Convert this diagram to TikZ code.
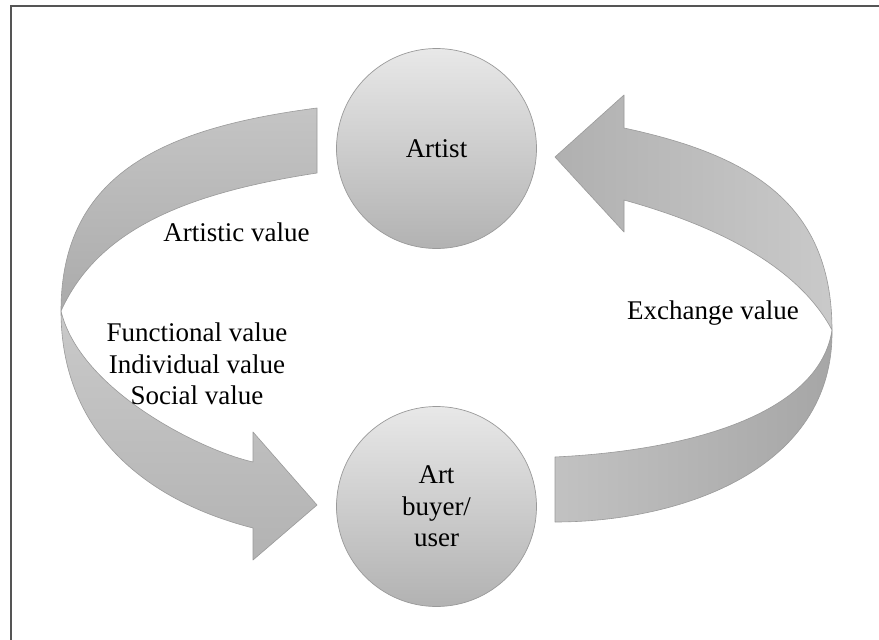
\documentclass[tikz,border=0pt]{standalone}
\usepackage{fontspec}
\setmainfont{Liberation Serif}
\definecolor{frame}{HTML}{555555}
\definecolor{edgec}{HTML}{9A9A9A}
\definecolor{cirtop}{HTML}{E8E8E8}
\definecolor{cirbot}{HTML}{B2B2B2}
\begin{document}
\begin{tikzpicture}[x=1pt,y=-1pt,
  lbl/.style={font=\fontsize{27}{31.5}\selectfont, align=center, inner sep=0pt},
  party/.style={circle, minimum size=200pt, inner sep=0pt, draw=edgec, line width=0.7pt,
     top color=cirtop, bottom color=cirbot, font=\fontsize{27}{31.5}\selectfont, align=center},
  band/.style={draw=edgec, line width=0.6pt, line join=round}]
\useasboundingbox (0,0) rectangle (879,640);
\fill[white] (0,0) rectangle (879,640);
\draw[frame, line width=2pt] (11,640) -- (11,6) -- (879,6);

% nodes
\node[party] (artist) at (436.5,148.5) {Artist};
\node[party] (buyer) at (436.5,506.5) {Art\\buyer/\\user};

% twist points of the two ribbons
\coordinate (ltw) at (61,311);
\coordinate (rtw) at (832,330);

% left arrow (artist -> buyer), upper band
\path[band, top color=black!23, bottom color=black!33]
  (317,108) .. controls (167,127.5) and (61,172) .. (ltw)
  .. controls (98,229) and (187,193) .. (317,173) -- cycle;
% left arrow lower band with head
\path[band, top color=black!21, bottom color=black!30]
  (ltw) .. controls (61,430) and (143,500) .. (253,528)
  -- (253,560) -- (317,505) -- (253,432) -- (253,462)
  .. controls (200,450) and (80,390) .. (ltw) -- cycle;

% right arrow (buyer -> artist), lower band
\path[band, left color=black!24, right color=black!35]
  (rtw) .. controls (834,470) and (680,522) .. (555,522)
  -- (555,457) .. controls (700,450) and (820,410) .. (rtw) -- cycle;
% right arrow upper band with head
\path[band, left color=black!31, right color=black!21]
  (555,157) -- (624,95) -- (624,128)
  .. controls (745,154) and (832,200) .. (rtw)
  .. controls (800,270) and (725,228) .. (624,200)
  -- (624,232) -- cycle;

% labels
\node[lbl, anchor=base] (artv) at (236.5,241) {Artistic value};
\node[lbl] (fisv) at (197,364) {Functional value\\Individual value\\Social value};
\node[lbl, anchor=base] (exv) at (713,319) {Exchange value};
\end{tikzpicture}
\end{document}
